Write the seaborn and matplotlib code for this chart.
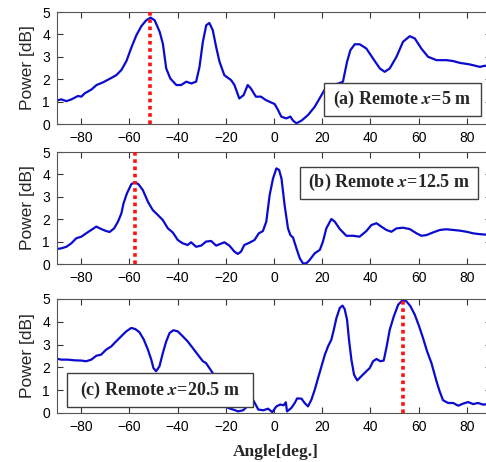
import matplotlib
matplotlib.use("Agg")
import matplotlib.pyplot as plt
import seaborn as sns
import pandas as pd
from matplotlib.patches import Rectangle

# ---------------- data ----------------
a_ang = [-90, -88.2, -86.1, -84.0, -81.3, -79.9, -78.5, -75.7, -73.6, -70.9, -68.1, -65.4, -63.3, -61.2,
         -59.2, -57.1, -55.0, -53.0, -51.2, -49.5, -47.4, -46.1, -44.7, -43.0, -40.5, -38.5, -36.4, -34.3,
         -32.3, -30.9, -29.5, -28.1, -26.8, -25.4, -24.0, -22.6, -20.6, -17.8, -16.4, -14.4, -12.6, -10.9,
         -9.6, -7.5, -5.4, -3.4, -1.8, 0.3, 1.7, 3.0, 5.1, 6.8, 7.9, 9.3, 11.4, 14.1, 16.9, 19.7, 21.7, 24,
         26.5, 28.6, 30.3, 31.7, 33.5, 35.5, 38.3, 41.1, 43.9, 45.9, 48.0, 50.8, 53.5, 56.3, 58.4, 61.1,
         63.9, 67.4, 71.5, 74.3, 77.0, 81.2, 85.4, 87.4, 90]
a_pow = [1.05, 1.10, 1.02, 1.10, 1.25, 1.22, 1.37, 1.54, 1.74, 1.86, 2.02, 2.18, 2.41, 2.81, 3.40, 3.96,
         4.37, 4.63, 4.75, 4.63, 4.11, 3.59, 2.48, 2.03, 1.74, 1.74, 1.89, 1.81, 1.89, 2.55, 3.67, 4.41,
         4.51, 4.19, 3.44, 2.78, 2.18, 1.96, 1.74, 1.14, 1.29, 1.74, 1.59, 1.22, 1.22, 1.07, 0.99, 0.89,
         0.62, 0.33, 0.25, 0.33, 0.15, 0.03, 0.15, 0.40, 0.77, 1.29, 1.66, 1.75, 1.80, 1.89, 2.78, 3.30,
         3.56, 3.56, 3.37, 2.92, 2.48, 2.33, 2.48, 3.00, 3.67, 3.92, 3.82, 3.37, 3.00, 2.85, 2.85, 2.81,
         2.73, 2.66, 2.55, 2.60, 2.55]

b_ang = [-90, -88.2, -86.1, -84.1, -82.0, -79.9, -77.9, -75.8, -73.7, -71.6, -69.6, -68.2, -66.3, -64.7,
         -63.3, -62.4, -61.0, -59.2, -57.8, -56.2, -54.4, -52.3, -50.3, -48.2, -46.1, -44.0, -42.0, -39.9,
         -37.8, -35.8, -34.4, -32.3, -30.2, -28.2, -26.1, -24.0, -22.4, -20.6, -18.5, -16.4, -15.0, -13.7,
         -12.3, -10.2, -8.1, -6.3, -4.6, -3.2, -1.8, -0.4, 1.0, 2.1, 3.1, 4.4, 5.8, 6.8, 7.9, 9.3, 10.7,
         12.0, 13.4, 14.8, 16.9, 19.0, 20.3, 21.7, 23.8, 25.2, 27.3, 30.0, 32.8, 35.5, 38.3, 40.4, 42.5,
         44.5, 46.6, 48.7, 50.8, 53.5, 56.3, 59.1, 61.1, 63.2, 66.0, 68.8, 71.5, 74.3, 77.0, 79.8, 82.6,
         84.6, 86.7, 90]
b_pow = [0.67, 0.70, 0.77, 0.92, 1.15, 1.22, 1.37, 1.52, 1.67, 1.56, 1.47, 1.43, 1.59, 1.89, 2.26, 2.71,
         3.15, 3.56, 3.65, 3.56, 3.30, 2.78, 2.41, 2.19, 1.96, 1.59, 1.41, 1.07, 0.92, 0.85, 0.97, 0.77,
         0.82, 1.00, 1.03, 0.82, 0.89, 0.97, 0.82, 0.55, 0.45, 0.55, 0.85, 0.95, 1.07, 1.37, 1.47, 1.89,
         3.08, 3.82, 4.27, 4.20, 3.82, 2.63, 1.59, 1.29, 1.18, 0.70, 0.25, 0.03, 0.03, 0.18, 0.48, 0.63,
         1.00, 1.59, 2.01, 1.89, 1.56, 1.26, 1.26, 1.22, 1.47, 1.74, 1.82, 1.67, 1.52, 1.44, 1.59, 1.62,
         1.56, 1.37, 1.26, 1.29, 1.41, 1.52, 1.55, 1.52, 1.49, 1.44, 1.37, 1.34, 1.32, 1.30]

c_ang = [-90, -88.2, -85.5, -82.7, -79.9, -77.9, -75.8, -73.7, -71.7, -69.6, -67.5, -65.5, -63.4, -61.3,
         -59.2, -57.5, -55.8, -54.0, -52.3, -50.9, -50.0, -48.9, -47.5, -46.1, -44.7, -43.3, -41.7, -39.9,
         -37.8, -35.8, -33.7, -31.6, -29.5, -28.2, -26.8, -25.4, -22.5, -19.0, -16.9, -14.9, -12.8, -10.5,
         -8.6, -6.5, -4.4, -2.5, -0.7, 1.0, 2.6, 4.0, 4.9, 5.4, 7.2, 8.6, 9.6, 11.4, 12.7, 14.1, 15.5, 16.9,
         18.3, 19.7, 21.1, 22.4, 23.8, 24.8, 25.9, 27.3, 28.4, 29.3, 30.3, 31.1, 32.1, 33.2, 34.5, 36.2,
         38.3, 39.7, 41.1, 42.5, 44.1, 45.5, 46.6, 48.0, 49.7, 51.5, 53.3, 54.9, 56.6, 58.4, 60.2, 61.8,
         63.5, 65.3, 67.4, 68.7, 70.1, 72.2, 74.3, 76.4, 78.4, 80.5, 82.6, 84.6, 86.7, 90]
c_pow = [2.38, 2.34, 2.34, 2.31, 2.30, 2.27, 2.34, 2.51, 2.56, 2.78, 2.92, 3.14, 3.36, 3.58, 3.73, 3.68,
         3.54, 3.22, 2.78, 2.34, 1.97, 1.83, 2.05, 2.63, 3.14, 3.51, 3.63, 3.58, 3.36, 3.14, 2.85, 2.56,
         2.27, 2.19, 1.97, 1.75, 1.0, 0.22, 0.15, 0.07, 0.12, 0.35, 0.56, 0.15, 0.12, 0.19, 0.04, 0.29,
         0.37, 0.34, 0.47, 0.07, 0.22, 0.44, 0.64, 0.63, 0.44, 0.29, 0.58, 1.02, 1.54, 2.05, 2.56, 2.92,
         3.22, 3.65, 4.17, 4.61, 4.71, 4.56, 4.09, 3.22, 2.34, 1.68, 1.43, 1.61, 1.83, 1.97, 2.27, 2.37,
         2.27, 2.30, 2.85, 3.65, 4.24, 4.75, 4.94, 4.90, 4.68, 4.31, 3.80, 3.29, 2.70, 2.19, 1.39, 0.95,
         0.56, 0.44, 0.44, 0.32, 0.41, 0.48, 0.39, 0.44, 0.37, 0.40]

peak_angles = [-51.3, -57.6, 53.7]
panel_prefix = ["(a) Remote ", "(b) Remote ", "(c) Remote "]
panel_dist = ["=5 m", "=12.5 m", "=20.5 m"]
x_ticks = [-80, -60, -40, -20, 0, 20, 40, 60, 80]
y_ticks = [0, 1, 2, 3, 4, 5]

# ---------------- style ----------------
sns.set_style("ticks")
plt.rcParams["font.family"] = ["Liberation Sans", "DejaVu Sans"]

fig = plt.figure(figsize=(4.86, 4.62), dpi=100)

left = 57 / 486
width = 434 / 486
panel_boxes = [
    (1 - 124 / 462, 112 / 462),
    (1 - 264 / 462, 112 / 462),
    (1 - 413 / 462, 114 / 462),
]
# annotation box extents in axes fraction: x0, x1, y0, y1
note_boxes = [
    (0.615, 0.977, 0.071, 0.366),
    (0.560, 0.971, 0.580, 0.869),
    (0.022, 0.451, 0.053, 0.351),
]

series = [(a_ang, a_pow), (b_ang, b_pow), (c_ang, c_pow)]
blue = "#0b0bd0"
serif = ["Liberation Serif", "DejaVu Serif"]

for i, ((ang, pw), (bot, h)) in enumerate(zip(series, panel_boxes)):
    ax = fig.add_axes([left, bot, width, h])
    df = pd.DataFrame({"angle": ang, "power": pw})
    sns.lineplot(data=df, x="angle", y="power", ax=ax, color=blue, linewidth=1.6,
                 errorbar=None, estimator=None, sort=True)
    ax.axvline(peak_angles[i], color="#ff1010", linestyle=(0, (1, 1)), linewidth=2.6, zorder=3)
    ax.set_xlim(-90, 90)
    ax.set_ylim(0, 5)
    ax.set_xticks(x_ticks)
    ax.set_yticks(y_ticks)
    ax.tick_params(direction="in", length=4, width=0.8, top=True, right=True,
                   labelsize=10, pad=5, colors="#333333", labelcolor="black")
    for s in ax.spines.values():
        s.set_color("#555555")
        s.set_linewidth(0.8)
    ax.set_xlabel("")
    ax.set_ylabel("Power [dB]", fontsize=12.5)
    ax.yaxis.set_label_coords(-0.051, 0.5)

    x0, x1, y0, y1 = note_boxes[i]
    ax.add_patch(Rectangle((x0, y0), x1 - x0, y1 - y0, transform=ax.transAxes,
                           facecolor="white", edgecolor="#404040", linewidth=1.0, zorder=5))
    label = panel_prefix[i] + r"$\boldsymbol{x}$" + panel_dist[i]
    ax.text((x0 + x1) / 2, (y0 + y1) / 2, label,
            transform=ax.transAxes, ha="center", va="center", fontsize=13, zorder=6,
            fontweight="bold", family=serif, math_fontfamily="stix")

    if i == 2:
        ax.set_xlabel("Angle[deg.]", fontsize=12.5, fontweight="bold", family=serif)
        ax.xaxis.set_label_coords((275.7 - 57) / 434, -0.27)

fig.savefig("out.png", dpi=100)
